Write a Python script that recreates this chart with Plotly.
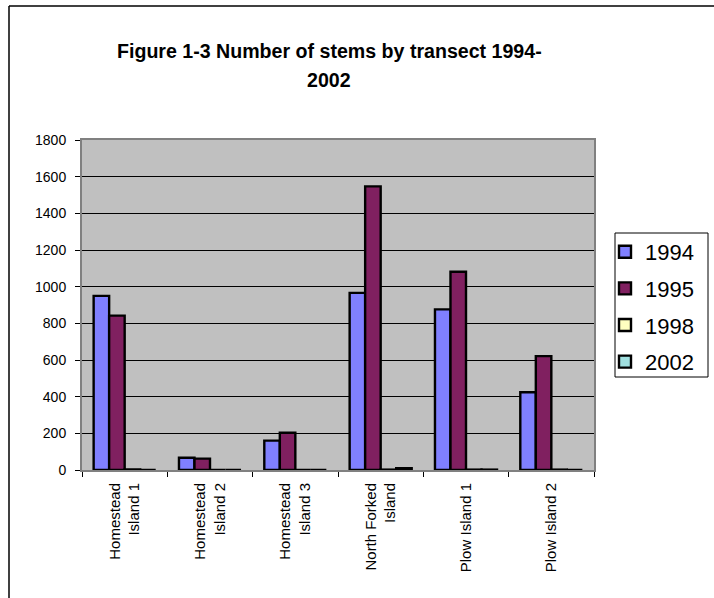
import plotly.graph_objects as go

# Transect names (two-line labels as they appear under the axis)
transects = [
    "Homestead<br>Island 1",
    "Homestead<br>Island 2",
    "Homestead<br>Island 3",
    "North Forked<br>Island",
    "Plow Island 1",
    "Plow Island 2",
]

# Stem counts per survey year
stems_1994 = [950, 67, 160, 966, 876, 424]
stems_1995 = [842, 62, 203, 1547, 1081, 621]
stems_1998 = [3, 0, 0, 2, 2, 2]
stems_2002 = [0, 0, 0, 10, 2, 0]

years = ["1994", "1995", "1998", "2002"]
colors = ["#8080FF", "#802060", "#FFFFC0", "#A0E0E0"]
series = [stems_1994, stems_1995, stems_1998, stems_2002]

y_ticks = list(range(0, 1801, 200))

FONT = "Liberation Sans, Arial, sans-serif"
W, H = 714, 598
ML, MR, MT, MB = 82, 120, 140, 128

fig = go.Figure()
for name, col, vals in zip(years, colors, series):
    fig.add_trace(go.Bar(
        name=name,
        x=transects,
        y=vals,
        legendgroup=name,
        marker=dict(color=col, line=dict(color="black", width=2.4)),
    ))

plot_w = W - ML - MR
plot_h = H - MT - MB


def px_x(p):
    return (p - ML) / plot_w


def px_y(p):
    return (H - MB - p) / plot_h


fig.update_layout(
    width=W,
    height=H,
    margin=dict(l=ML, r=MR, t=MT, b=MB, pad=0, autoexpand=False),
    paper_bgcolor="white",
    plot_bgcolor="#C0C0C0",
    barmode="group",
    bargap=1.5 / 5.5,
    bargroupgap=0,
    font=dict(family=FONT, color="black"),
    showlegend=True,
    legend=dict(
        x=px_x(605), y=px_y(231), xanchor="left", yanchor="top",
        bgcolor="rgba(0,0,0,0)", borderwidth=0,
        font=dict(size=22, family=FONT),
        tracegroupgap=5,
    ),
    xaxis=dict(
        tickangle=-90,
        tickfont=dict(size=15, family=FONT),
        ticks="outside", ticklen=5, tickcolor="black",
        tickson="boundaries",
        ticklabelstandoff=5,
        showline=True, linecolor="#808080", linewidth=2,
        showgrid=False,
        mirror=True,
    ),
    yaxis=dict(
        range=[0, 1800],
        tickvals=y_ticks,
        tickfont=dict(size=14, family=FONT),
        ticks="outside", ticklen=5, tickcolor="black",
        ticklabelstandoff=6,
        showline=True, linecolor="#808080", linewidth=2,
        mirror=True,
        showgrid=True, gridcolor="black", gridwidth=1,
        zeroline=False,
    ),
    annotations=[
        dict(text="<b>Figure 1-3 Number of stems by transect 1994-</b>",
             xref="paper", yref="paper", x=px_x(329), y=px_y(51),
             xanchor="center", yanchor="middle", showarrow=False,
             font=dict(size=19.6, family=FONT)),
        dict(text="<b>2002</b>",
             xref="paper", yref="paper", x=px_x(329), y=px_y(80),
             xanchor="center", yanchor="middle", showarrow=False,
             font=dict(size=19.6, family=FONT)),
    ],
    shapes=[
        # outer chart-area frame (top and left edges)
        dict(type="line", xref="paper", yref="paper",
             x0=px_x(9), x1=px_x(W + 5), y0=px_y(6), y1=px_y(6),
             line=dict(color="black", width=1.5)),
        dict(type="line", xref="paper", yref="paper",
             x0=px_x(9), x1=px_x(9), y0=px_y(6), y1=px_y(H + 5),
             line=dict(color="black", width=1.5)),
        # legend frame
        dict(type="rect", xref="paper", yref="paper",
             x0=px_x(615), x1=px_x(708), y0=px_y(233), y1=px_y(377),
             fillcolor="white", line=dict(color="black", width=1)),
    ],
)

fig.write_html("out.html")
